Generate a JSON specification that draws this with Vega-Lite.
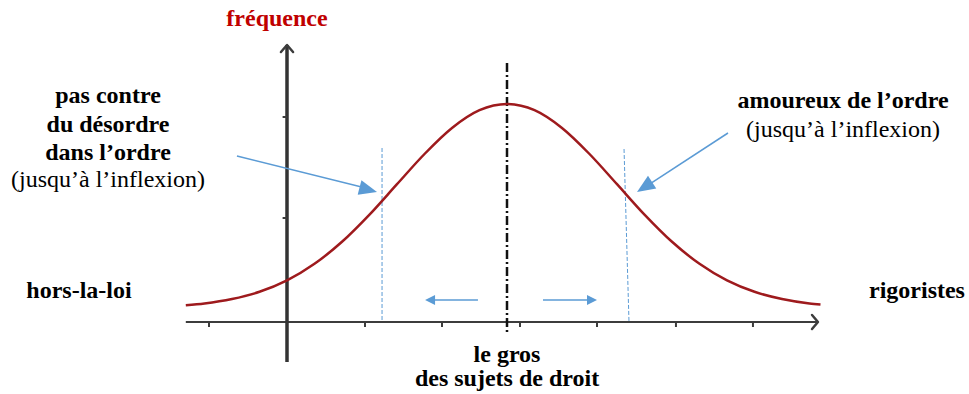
{
  "$schema": "https://vega.github.io/schema/vega-lite/v6.json",
  "width": 969,
  "height": 394,
  "padding": 0,
  "autosize": {"type": "fit", "contains": "padding"},
  "background": "#ffffff",
  "config": {"view": {"stroke": null}},
  "encoding": {
    "x": {"field": "x", "type": "quantitative", "scale": {"domain": [-4.6091, 4.2], "nice": false, "zero": false}, "axis": null},
    "y": {"field": "y", "type": "quantitative", "scale": {"domain": [-36, 161], "nice": false, "zero": false}, "axis": null}
  },
  "layer": [
    {
      "data": {"values": [{"x": -2.92, "y": 0, "x2": 2.827, "y2": 0}]},
      "mark": {"type": "rule", "color": "#3c3c3c", "strokeWidth": 2},
      "encoding": {"x2": {"field": "x2"}, "y2": {"field": "y2"}}
    },
    {
      "data": {"values": [{"x": -2.0, "y": 138.5, "x2": -2.0, "y2": -20}]},
      "mark": {"type": "rule", "color": "#333333", "strokeWidth": 3.5},
      "encoding": {"x2": {"field": "x2"}, "y2": {"field": "y2"}}
    },
    {
      "data": {"values": [
        {"x": -2.709, "y": 0, "x2": -2.709, "y2": -2.5},
        {"x": -1.291, "y": 0, "x2": -1.291, "y2": -2.5},
        {"x": -0.591, "y": 0, "x2": -0.591, "y2": -2.5},
        {"x": 0.118, "y": 0, "x2": 0.118, "y2": -2.5},
        {"x": 0.818, "y": 0, "x2": 0.818, "y2": -2.5},
        {"x": 1.536, "y": 0, "x2": 1.536, "y2": -2.5},
        {"x": 2.236, "y": 0, "x2": 2.236, "y2": -2.5},
        {"x": -2.04, "y": 102.5, "x2": -2.0, "y2": 102.5},
        {"x": -2.04, "y": 52, "x2": -2.0, "y2": 52}
      ]},
      "mark": {"type": "rule", "color": "#3c3c3c", "strokeWidth": 2},
      "encoding": {"x2": {"field": "x2"}, "y2": {"field": "y2"}}
    },
    {
      "data": {"values": [
        {"g": "xa", "o": 1, "x": 2.773, "y": 3.5},
        {"g": "xa", "o": 2, "x": 2.827, "y": 0},
        {"g": "xa", "o": 3, "x": 2.773, "y": -3.5},
        {"g": "ya", "o": 1, "x": -2.055, "y": 135},
        {"g": "ya", "o": 2, "x": -2.0, "y": 138.5},
        {"g": "ya", "o": 3, "x": -1.945, "y": 135}
      ]},
      "mark": {"type": "line", "color": "#3c3c3c", "strokeWidth": 2.5, "strokeCap": "round", "strokeJoin": "round"},
      "encoding": {"detail": {"field": "g"}, "order": {"field": "o"}}
    },
    {
      "data": {"values": [{"x": 0, "y": 129.5, "x2": 0, "y2": -5}]},
      "mark": {"type": "rule", "color": "#111111", "strokeWidth": 2.5, "strokeDash": [9, 3, 2, 3]},
      "encoding": {"x2": {"field": "x2"}, "y2": {"field": "y2"}}
    },
    {
      "data": {"values": [
        {"x": -1.136, "y": 87, "x2": -1.136, "y2": 0},
        {"x": 1.064, "y": 86.5, "x2": 1.109, "y2": 0}
      ]},
      "mark": {"type": "rule", "color": "#5b9bd5", "strokeWidth": 1, "strokeDash": [4, 2]},
      "encoding": {"x2": {"field": "x2"}, "y2": {"field": "y2"}}
    },
    {
      "data": {"values": [
        {"x": -2.92, "y": 8.4}, {"x": -2.75, "y": 9.3}, {"x": -2.5, "y": 11.5}, {"x": -2.25, "y": 15.1},
        {"x": -2.0, "y": 20.8}, {"x": -1.75, "y": 29.1}, {"x": -1.5, "y": 40.1}, {"x": -1.25, "y": 53.7},
        {"x": -1.0, "y": 68.9}, {"x": -0.75, "y": 84.0}, {"x": -0.5, "y": 97.0}, {"x": -0.25, "y": 105.9},
        {"x": 0, "y": 109}, {"x": 0.25, "y": 105.9}, {"x": 0.5, "y": 97.0}, {"x": 0.75, "y": 84.0},
        {"x": 1.0, "y": 68.9}, {"x": 1.25, "y": 53.7}, {"x": 1.5, "y": 40.1}, {"x": 1.75, "y": 29.1},
        {"x": 2.0, "y": 20.8}, {"x": 2.25, "y": 15.1}, {"x": 2.5, "y": 11.5}, {"x": 2.75, "y": 9.3},
        {"x": 2.85, "y": 8.8}
      ]},
      "mark": {"type": "line", "color": "#9e1a1d", "strokeWidth": 2.5, "interpolate": "monotone"},
      "encoding": {}
    },
    {
      "data": {"values": [
        {"x": -2.455, "y": 83, "x2": -1.23, "y2": 66.2},
        {"x": 2.009, "y": 94.5, "x2": 1.23, "y2": 66.6},
        {"x": -0.264, "y": 11, "x2": -0.72, "y2": 11},
        {"x": 0.327, "y": 11, "x2": 0.79, "y2": 11}
      ]},
      "mark": {"type": "rule", "color": "#5b9bd5", "strokeWidth": 1.5},
      "encoding": {"x2": {"field": "x2"}, "y2": {"field": "y2"}}
    },
    {
      "data": {"values": [{"x": -1.182, "y": 65}]},
      "mark": {"type": "point", "shape": "M0,0 L-1,-0.42 L-1,0.42 Z", "filled": true, "color": "#5b9bd5", "opacity": 1, "size": 1296, "angle": 14.4}
    },
    {
      "data": {"values": [{"x": 1.182, "y": 65}]},
      "mark": {"type": "point", "shape": "M0,0 L-1,-0.42 L-1,0.42 Z", "filled": true, "color": "#5b9bd5", "opacity": 1, "size": 1296, "angle": 147}
    },
    {
      "data": {"values": [{"x": -0.745, "y": 11}]},
      "mark": {"type": "point", "shape": "M0,0 L-1,-0.5 L-1,0.5 Z", "filled": true, "color": "#5b9bd5", "opacity": 1, "size": 400, "angle": 180}
    },
    {
      "data": {"values": [{"x": 0.818, "y": 11}]},
      "mark": {"type": "point", "shape": "M0,0 L-1,-0.5 L-1,0.5 Z", "filled": true, "color": "#5b9bd5", "opacity": 1, "size": 400, "angle": 0}
    },
    {
      "data": {"values": [
        {"x": -3.627, "y": 109.5, "t": "pas contre"},
        {"x": -3.627, "y": 95, "t": "du désordre"},
        {"x": -3.627, "y": 81, "t": "dans l’ordre"},
        {"x": 3.055, "y": 107, "t": "amoureux de l’ordre"},
        {"x": -3.891, "y": 12, "t": "hors-la-loi"},
        {"x": 3.727, "y": 12, "t": "rigoristes"},
        {"x": 0, "y": -20, "t": "le gros"},
        {"x": 0, "y": -32, "t": "des sujets de droit"}
      ]},
      "mark": {"type": "text", "align": "center", "baseline": "alphabetic", "font": "Liberation Serif", "fontSize": 24, "fontWeight": "bold", "color": "#000000"},
      "encoding": {"text": {"field": "t"}}
    },
    {
      "data": {"values": [
        {"x": -3.627, "y": 67.5, "t": "(jusqu’à l’inflexion)"},
        {"x": 3.055, "y": 92.5, "t": "(jusqu’à l’inflexion)"}
      ]},
      "mark": {"type": "text", "align": "center", "baseline": "alphabetic", "font": "Liberation Serif", "fontSize": 24, "fontWeight": "normal", "color": "#000000"},
      "encoding": {"text": {"field": "t"}}
    },
    {
      "data": {"values": [{"x": -2.091, "y": 148, "t": "fréquence"}]},
      "mark": {"type": "text", "align": "center", "baseline": "alphabetic", "font": "Liberation Serif", "fontSize": 24, "fontWeight": "bold", "color": "#c00000"},
      "encoding": {"text": {"field": "t"}}
    }
  ]
}
